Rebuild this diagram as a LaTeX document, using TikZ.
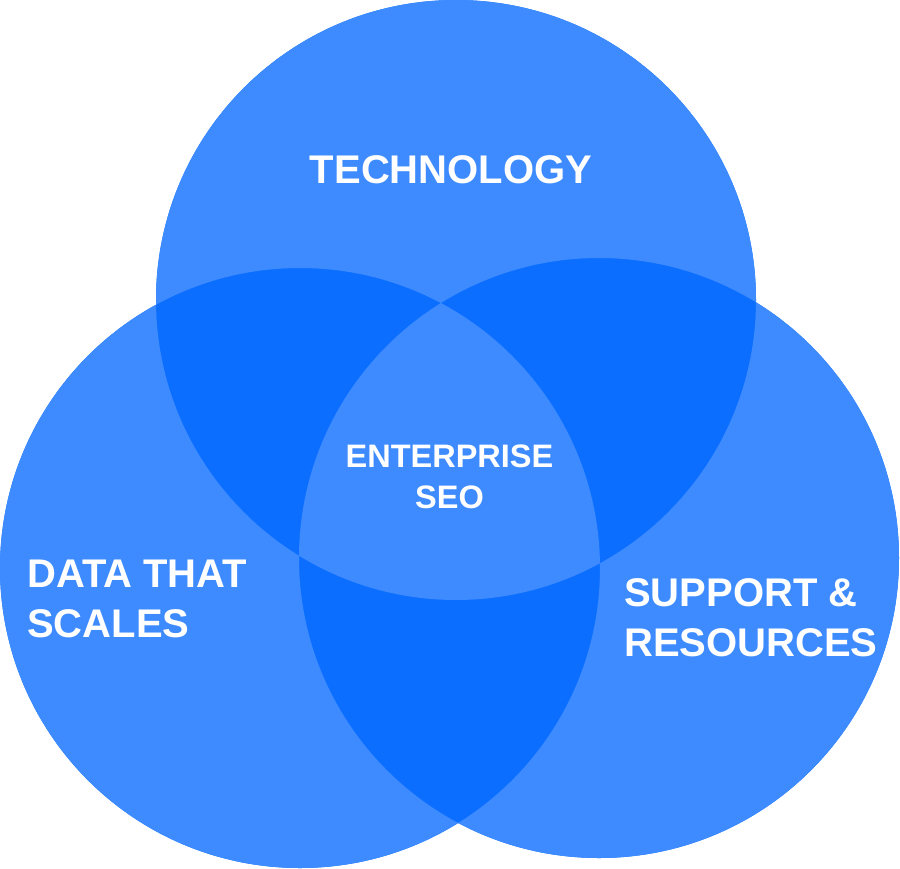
\documentclass[tikz,border=0pt]{standalone}
\usepackage{fontspec}
\setmainfont{Liberation Sans}
\usepackage{tikz}
\definecolor{vennlight}{HTML}{3D8BFF}
\definecolor{venndark}{HTML}{0C6EFF}
\tikzset{%
  outerlabel/.style={text=white, inner sep=0pt, align=left,
    font=\fontsize{40}{50}\selectfont\bfseries},
  innerlabel/.style={text=white, inner sep=0pt, align=center,
    font=\fontsize{32.5}{41}\selectfont\bfseries}
}

\begin{document}
\begin{tikzpicture}[x=1pt, y=-1pt]
  \useasboundingbox (0,0) rectangle (900,868);
  \coordinate (tech) at (456,300);
  \coordinate (data) at (300,568);
  \coordinate (supp) at (599,558);
  % overlaps of two circles stay dark
  \fill [venndark] (tech) circle [radius=300] (data) circle [radius=300] (supp) circle [radius=300];
  \fill [vennlight, even odd rule] (tech) circle [radius=300] (data) circle [radius=300] (supp) circle [radius=300];
  \node [outerlabel, anchor=base] (techlabel) at (451,183) {TECHNOLOGY};
  \node [outerlabel, anchor=base west] (datalabel) at (27,637) {DATA THAT\\SCALES};
  \node [outerlabel, anchor=base west] (supplabel) at (624,656) {SUPPORT \&\\RESOURCES};
  \node [innerlabel, anchor=base] (seolabel) at (449.5,508) {ENTERPRISE\\SEO};
\end{tikzpicture}
\end{document}
